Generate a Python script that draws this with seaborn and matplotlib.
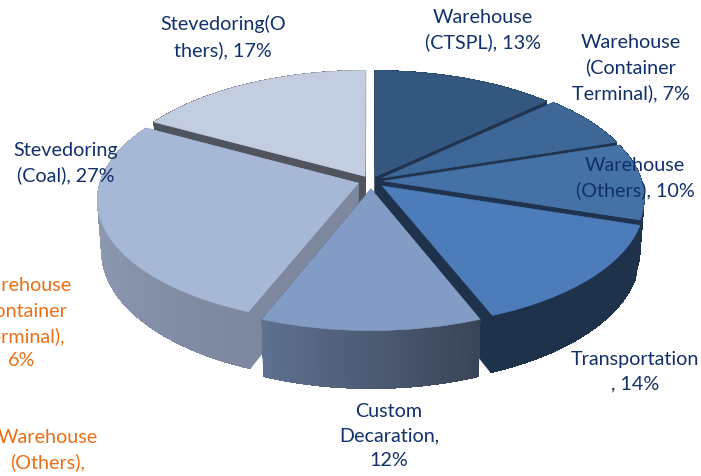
import numpy as np
import matplotlib
matplotlib.use('Agg')
import matplotlib.pyplot as plt
import matplotlib.transforms as mtransforms
from matplotlib.collections import PolyCollection
import seaborn as sns

# values go clockwise from 12 o'clock
categories = ['Warehouse (CTSPL)', 'Warehouse (Container Terminal)', 'Warehouse (Others)',
              'Transportation', 'Custom Decaration', 'Stevedoring (Coal)', 'Stevedoring(Others)']
values = [13, 7, 10, 14, 12, 27, 17]
explode = [0.04, 0.05, 0.05, 0.06, 0.065, 0.052, 0.045]

top_colors = ['#34577f', '#3c6797', '#4471a6', '#4c7dba', '#839cc5', '#a7b7d6', '#c3cde0']
wall_left = ['#1f334f', '#1f334f', '#1f334f', '#1e324c', '#5f7190', '#99a7c0', '#50545f']
wall_right = ['#1f334f', '#1f334f', '#1f334f', '#1e324c', '#3a4457', '#7d889f', '#50545f']
# painter's order, back slices first
draw_order = [6, 0, 1, 2, 5, 3, 4]

labels = ['Warehouse\n(CTSPL), 13%', 'Warehouse\n(Container\nTerminal), 7%', 'Warehouse\n(Others), 10%',
          'Transportation\n, 14%', 'Custom\nDecaration,\n12%', 'Stevedoring\n(Coal), 27%',
          'Stevedoring(O\nthers), 17%']
label_x = [483, 631, 635, 635, 389, 66, 223]
label_y = [30, 68, 178, 372, 436, 163, 37]

other_labels = ['Warehouse\n(Container\nTerminal),\n6%', 'Warehouse\n(Others),']
other_x = [22, 48]
other_y = [323, 450]

CX, CY = 371, 181
RX, RY = 258, 121
PERSP = 0.13
DEPTH = 50


def project(u, v, z=0.0):
    w = 1 + PERSP * v
    x = CX + RX * u / w * (1 - 0.015 * z)
    y = CY - RY * v / w + DEPTH * z / w
    return x, y


class PieTilt(mtransforms.Transform):
    input_dims = 2
    output_dims = 2

    def transform_non_affine(self, values):
        x, y = project(values[:, 0], values[:, 1])
        return np.column_stack([x, y])


sns.set_theme(style='white')
plt.rcParams['font.family'] = ['Lato', 'DejaVu Sans']

fig = plt.figure(figsize=(7.01, 4.76), dpi=100)
ax = fig.add_axes([0, 0, 1, 1])

wedges, _ = ax.pie(values, colors=top_colors, explode=explode, startangle=90,
                   counterclock=False, radius=1, wedgeprops={'linewidth': 0})
ax.set_aspect('auto')
ax.set_xlim(0, 701)
ax.set_ylim(476, 0)
ax.axis('off')

tilt = PieTilt()
for rank, i in enumerate(draw_order):
    w = wedges[i]
    w.set_transform(tilt + ax.transData)
    w.set_zorder(rank * 2 + 1)
    w.set_edgecolor(top_colors[i])
    w.set_linewidth(0.4)

    cu, cv = w.center
    th = np.radians(np.linspace(w.theta1, w.theta2, 50))
    u = cu + np.cos(th)
    v = cv + np.sin(th)

    # the two cut faces go first, the outer wall sits in front of them
    cuts = []
    for k in (0, -1):
        cuts.append([project(cu, cv), project(u[k], v[k]), project(u[k], v[k], 1), project(cu, cv, 1)])
    cut_color = wall_right[i]
    ax.add_collection(PolyCollection(cuts, facecolors=cut_color, edgecolors=cut_color,
                                     linewidths=0.4, zorder=rank * 2))

    # solid wall underneath so the strips leave no seams
    top_x, top_y = project(u, v)
    bot_x, bot_y = project(u, v, 1)
    outline = np.column_stack([np.r_[top_x, bot_x[::-1]], np.r_[top_y, bot_y[::-1]]])
    under = sns.blend_palette([wall_left[i], wall_right[i]], 3)[1]
    ax.add_collection(PolyCollection([outline], facecolors=[under], edgecolors='none', zorder=rank * 2))

    # outer wall as thin strips so the shading runs left to right
    polys = []
    for k in range(len(th) - 1):
        polys.append([(top_x[k], top_y[k]), (top_x[k + 1], top_y[k + 1]),
                      (bot_x[k + 1], bot_y[k + 1]), (bot_x[k], bot_y[k])])
    strip_colors = sns.blend_palette([wall_left[i], wall_right[i]], len(polys))
    ax.add_collection(PolyCollection(polys, facecolors=strip_colors, edgecolors='none',
                                     antialiaseds=False, zorder=rank * 2))

for i in range(len(labels)):
    ax.text(label_x[i], label_y[i], labels[i], ha='center', va='center', fontsize=14.2,
            color='#11306b', linespacing=1.52, zorder=30)

for i in range(len(other_labels)):
    ax.text(other_x[i], other_y[i], other_labels[i], ha='center', va='center', fontsize=14.2,
            color='#ea6f16', linespacing=1.52, zorder=30)

plt.savefig('out.png', dpi=100)
